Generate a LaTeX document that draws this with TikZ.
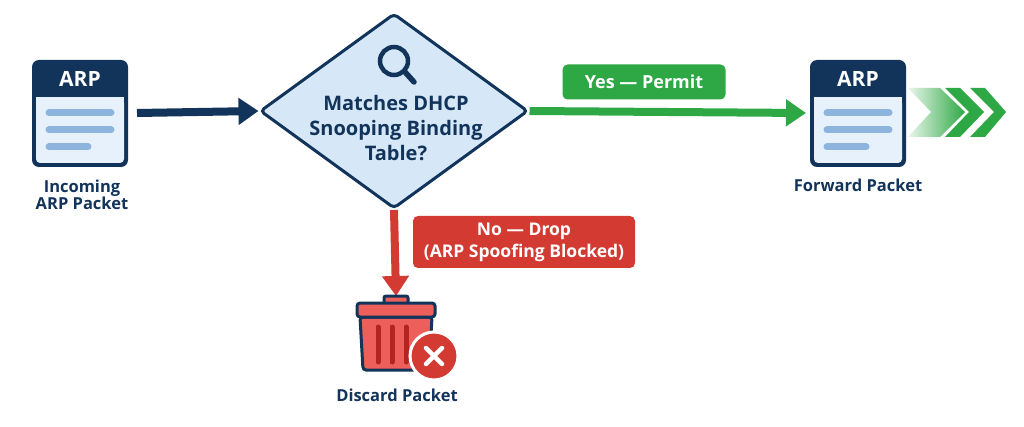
\documentclass[tikz,border=0pt]{standalone}
\usepackage{fontspec}
\setmainfont{Open Sans}
\usetikzlibrary{arrows.meta,shapes.geometric}
\definecolor{navy}{HTML}{12345A}
\definecolor{lightb}{HTML}{E6F1FB}
\definecolor{barb}{HTML}{8DB4DC}
\definecolor{diamf}{HTML}{D6E8F8}
\definecolor{gr}{HTML}{2EA844}
\definecolor{rd}{HTML}{D33A32}
\definecolor{trash}{HTML}{EC5F5A}
\definecolor{trashd}{HTML}{B3231F}
\tikzset{
 lbl/.style={font=\fontsize{16.5}{19}\selectfont\bfseries, text=navy, align=center},
 bar/.style={line width=7pt, line cap=round, barb},
 tag/.style={rounded corners=5pt, text=white, font=\fontsize{18}{21}\selectfont\bfseries, align=center},
}
\newcommand{\arpdoc}[2]{%
 \fill[navy,rounded corners=7pt] (#1-48,#2-53) rectangle (#1+48,#2+54);
 \fill[lightb,rounded corners=4pt] (#1-44,#2-14) rectangle (#1+44,#2+50);
 \fill[lightb] (#1-44,#2-16) rectangle (#1+44,#2-4);
 \node[text=white,font=\fontsize{21}{24}\selectfont\bfseries] at (#1,#2-34) {ARP};
 \draw[bar] (#1-31,#2) -- (#1+31,#2);
 \draw[bar] (#1-31,#2+17) -- (#1+31,#2+17);
 \draw[bar] (#1-31,#2+34) -- (#1+8,#2+34);
}
\begin{document}
\begin{tikzpicture}[x=1pt,y=-1pt]
\useasboundingbox[fill=white] (0,0) rectangle (1024,427);
% incoming doc
\arpdoc{80}{113}
\coordinate (inR) at (129,113);
\node[lbl] (inlbl) at (82,195) {Incoming\\[-2pt]ARP Packet};
% diamond
\node[diamond, draw=navy, line width=3pt, fill=diamf, minimum width=268pt, minimum height=195pt, inner sep=0pt, rounded corners=4pt] (dec) at (394,111) {};
\node[lbl, font=\fontsize{20}{25}\selectfont\bfseries] (dtext) at (396,128) {Matches DHCP\\Snooping Binding\\Table?};
\draw[navy, line width=4.5pt] (394,61) circle (14);
\draw[navy, line width=5.5pt, line cap=round] (405,72) -- (414,82);
% dark arrow
\draw[navy, line width=8pt, -{Triangle[length=20pt,width=26pt]}] (137,113) -- (dec.west);
% forward doc
\arpdoc{858}{113}
\coordinate (fwdL) at (806,113);
\node[lbl] (fwdlbl) at (858,185) {Forward Packet};
% green arrow
\draw[gr, line width=8pt, -{Triangle[length=20pt,width=26pt]}] (dec.east) -- (fwdL);
\node[tag, fill=gr, minimum width=163pt, minimum height=35pt] (yes) at (644,82) {Yes — Permit};
% chevrons
\shade[left color=gr!10, right color=gr] (908,88) -- (940,88) -- (965,112) -- (940,137) -- (908,137) -- (931,112) -- cycle;
\fill[gr] (945,88) -- (960,88) -- (984,112) -- (960,137) -- (945,137) -- (969,112) -- cycle;
\fill[gr] (970,88) -- (985,88) -- (1006,112) -- (985,137) -- (970,137) -- (994,112) -- cycle;
% red arrow
\coordinate (trashtop) at (396,296);
\draw[rd, line width=8pt, -{Triangle[length=20pt,width=26pt]}] (dec.south) -- (trashtop);
\node[tag, fill=rd, minimum width=222pt, minimum height=52pt, font=\fontsize{17.5}{22}\selectfont\bfseries] (no) at (524,242) {No — Drop\\(ARP Spoofing Blocked)};
% trash can
\draw[navy, line width=3pt, fill=trash, rounded corners=2pt] (384,304) rectangle (408,296);
\draw[navy, line width=3pt, fill=trash, rounded corners=3pt] (360,317) -- (363,370) -- (429,370) -- (432,317) -- cycle;
\draw[navy, line width=3pt, fill=trash, rounded corners=3pt] (357,303) rectangle (435,317);
\foreach \xx in {378,392,406} \draw[trashd, line width=5pt, line cap=round] (\xx,327) -- (\xx,362);
\node[circle, fill=rd, draw=white, line width=3pt, minimum size=48pt] (xc) at (434,356) {};
\draw[white, line width=4.5pt, line cap=round] (426,348) -- (442,364) (442,348) -- (426,364);
\node[lbl] (dislbl) at (397,395) {Discard Packet};
\end{tikzpicture}
\end{document}
